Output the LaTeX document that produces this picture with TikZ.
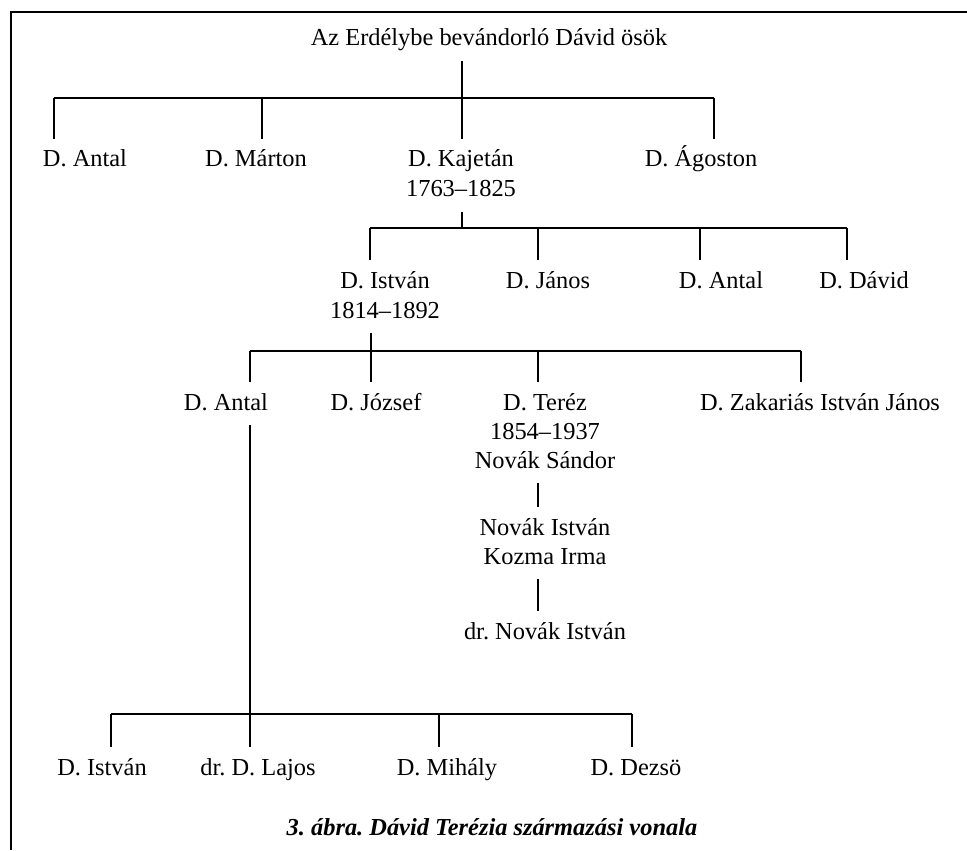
\documentclass[tikz,border=0pt]{standalone}
\usepackage{fontspec}
\setmainfont{Liberation Serif}
\usepackage{tikz}
\frenchspacing

\begin{document}
\begin{tikzpicture}[
  x=0.5pt, y=-0.5pt,
  person/.style={anchor=base, font=\fontsize{12.2}{14}\selectfont, inner sep=0pt,
    text height=9pt, text depth=2.5pt, outer ysep=5pt},
  caption/.style={person, font=\fontsize{12.2}{14}\selectfont\bfseries\itshape},
  line/.style={line width=0.6pt}
]
\useasboundingbox (0,0) rectangle (967,850);
\draw[line] (11,850) -- (11,12) -- (967,12);

\node[person] (root) at (489,46) {Az Erdélybe bevándorló Dávid ösök};

\node[person] (antal1) at (85,167) {D. Antal};
\node[person] (marton) at (256,167) {D. Márton};
\node[person] (kajetan) at (461,167) {D. Kajetán};
\node[person] (kajetanY) at (461,197) {1763--1825};
\node[person] (agoston) at (701,167) {D. Ágoston};

\node[person] (istvan1) at (385,288) {D. István};
\node[person] (istvan1Y) at (385,318) {1814--1892};
\node[person] (janos) at (548,288) {D. János};
\node[person] (antal2) at (721,288) {D. Antal};
\node[person] (david) at (864,288) {D. Dávid};

\node[person] (antal3) at (226,410) {D. Antal};
\node[person] (jozsef) at (376,410) {D. József};
\node[person] (terez) at (545,410) {D. Teréz};
\node[person] (terezY) at (545,439) {1854--1937};
\node[person] (sandor) at (545,468) {Novák Sándor};
\node[person] (zakarias) at (820,410) {D. Zakariás István János};
\node[person] (novakI) at (545,535) {Novák István};
\node[person] (kozma) at (545,564) {Kozma Irma};
\node[person] (novakDr) at (545,639) {dr. Novák István};

\node[person] (istvan2) at (102,775) {D. István};
\node[person] (lajos) at (258,775) {dr. D. Lajos};
\node[person] (mihaly) at (447,775) {D. Mihály};
\node[person] (dezso) at (636,775) {D. Dezsö};

\node[caption] (title) at (492,835) {3. ábra. Dávid Terézia származási vonala};

% bars
\coordinate (bar1) at (462,98);
\coordinate (bar2) at (462,228);
\coordinate (bar3) at (371,351);
\coordinate (bar4) at (250,714);

\draw[line] (bar1 |- root.south) -- (bar1);
\draw[line] (54,98) coordinate (b1a) -- (714,98) coordinate (b1d);
\coordinate (b1b) at (262,98);
\foreach \c/\n in {b1a/antal1, b1b/marton, bar1/kajetan, b1d/agoston}
  \draw[line] (\c) -- (\c |- \n.north);

\draw[line] (bar2 |- kajetanY.south) -- (bar2);
\draw[line] (370,228) coordinate (b2a) -- (847,228) coordinate (b2d);
\coordinate (b2b) at (538,228);
\coordinate (b2c) at (700,228);
\foreach \c/\n in {b2a/istvan1, b2b/janos, b2c/antal2, b2d/david}
  \draw[line] (\c) -- (\c |- \n.north);

\draw[line] (bar3 |- istvan1Y.south) -- (bar3);
\draw[line] (250,351) coordinate (b3a) -- (801,351) coordinate (b3d);
\coordinate (b3c) at (538,351);
\foreach \c/\n in {b3a/antal3, bar3/jozsef, b3c/terez, b3d/zakarias}
  \draw[line] (\c) -- (\c |- \n.north);

\draw[line] (b3c |- sandor.south) -- (b3c |- novakI.north);
\draw[line] (b3c |- kozma.south) -- (b3c |- novakDr.north);

\draw[line] (bar4 |- antal3.south) -- (bar4);
\draw[line] (111,714) coordinate (b4a) -- (632,714) coordinate (b4d);
\coordinate (b4c) at (439,714);
\foreach \c/\n in {b4a/istvan2, bar4/lajos, b4c/mihaly, b4d/dezso}
  \draw[line] (\c) -- (\c |- \n.north);

\end{tikzpicture}
\end{document}
